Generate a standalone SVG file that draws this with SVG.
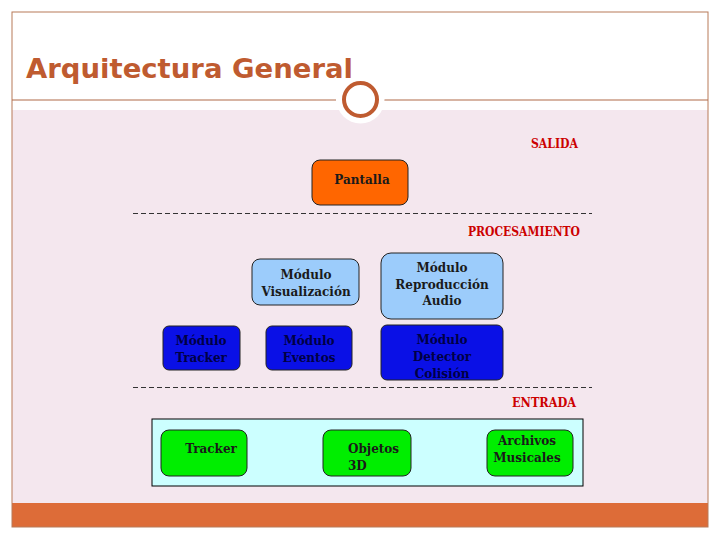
<svg xmlns="http://www.w3.org/2000/svg" width="720" height="540" viewBox="0 0 720 540">
<style>
.title{font-family:"DejaVu Sans",Verdana,sans-serif;font-weight:bold;font-size:26px;fill:#bf5b30}
.lbl{font-family:"DejaVu Serif","Liberation Serif",serif;font-weight:bold;font-size:12px;fill:#1a1a1a;text-anchor:middle}
.dark{fill:#000044}
.sec{font-family:"DejaVu Serif","Liberation Serif",serif;font-weight:bold;font-size:12.5px;fill:#cc0000}
.box{stroke:#222;stroke-width:1}
.dash{stroke:#333;stroke-width:1;stroke-dasharray:5 3;fill:none}
</style>
<rect x="0" y="0" width="720" height="540" fill="#ffffff"/>
<rect x="12" y="110" width="696" height="393" fill="#f4e7ee"/>
<rect x="12" y="503" width="696" height="24" fill="#dd6c38"/>
<rect x="12" y="12" width="696" height="515" fill="none" stroke="#b87a58" stroke-width="1"/>
<line x1="12" y1="100" x2="336" y2="100" stroke="#b06a48" stroke-width="1.2"/>
<line x1="384" y1="100" x2="708" y2="100" stroke="#b06a48" stroke-width="1.2"/>
<circle cx="360.5" cy="99.5" r="24" fill="#ffffff"/>
<circle cx="360.5" cy="99.5" r="16.5" fill="#ffffff" stroke="#bf5b30" stroke-width="4"/>
<text class="title" x="26" y="78" textLength="327" lengthAdjust="spacingAndGlyphs">Arquitectura General</text>

<g id="connectors">
<line class="dash" x1="133" y1="213.5" x2="592" y2="213.5"/>
<line class="dash" x1="133" y1="387.5" x2="592" y2="387.5"/>
</g>

<g id="labels">
<text class="sec" x="531" y="148" textLength="47" lengthAdjust="spacingAndGlyphs">SALIDA</text>
<text class="sec" x="468" y="236" textLength="112" lengthAdjust="spacingAndGlyphs">PROCESAMIENTO</text>
<text class="sec" x="512" y="407" textLength="64" lengthAdjust="spacingAndGlyphs">ENTRADA</text>
</g>

<g id="pantalla">
<rect class="box" x="312" y="160" width="96" height="45" rx="8" fill="#ff6600"/>
<text class="lbl" x="362" y="184">Pantalla</text>
</g>

<g id="visualizacion">
<rect class="box" x="252" y="259" width="107" height="46" rx="8" fill="#9cccfb"/>
<text class="lbl" x="306" y="279">Módulo</text>
<text class="lbl" x="306" y="296">Visualización</text>
</g>

<g id="reproduccion">
<rect class="box" x="381" y="253" width="122" height="66" rx="10" fill="#9cccfb"/>
<text class="lbl" x="442" y="272">Módulo</text>
<text class="lbl" x="442" y="289">Reproducción</text>
<text class="lbl" x="442" y="305">Audio</text>
</g>

<g id="tracker-mod">
<rect class="box" x="163" y="326" width="77" height="44" rx="6" fill="#0a10e6"/>
<text class="lbl dark" x="201" y="345">Módulo</text>
<text class="lbl dark" x="201" y="362">Tracker</text>
</g>

<g id="eventos">
<rect class="box" x="266" y="326" width="86" height="44" rx="6" fill="#0a10e6"/>
<text class="lbl dark" x="309" y="345">Módulo</text>
<text class="lbl dark" x="309" y="362">Eventos</text>
</g>

<g id="detector">
<rect class="box" x="381" y="325" width="122" height="55" rx="6" fill="#0a10e6"/>
<text class="lbl dark" x="442" y="344">Módulo</text>
<text class="lbl dark" x="442" y="361">Detector</text>
<text class="lbl dark" x="442" y="378">Colisión</text>
</g>

<g id="entrada">
<rect x="152" y="419" width="431" height="67" fill="#ccffff" stroke="#000" stroke-width="1"/>
</g>

<g id="tracker">
<rect class="box" x="161" y="430" width="86" height="46" rx="8" fill="#00ee00"/>
<text class="lbl" x="211" y="453">Tracker</text>
</g>

<g id="objetos">
<rect class="box" x="323" y="430" width="88" height="46" rx="8" fill="#00ee00"/>
<text class="lbl" x="348" y="453" style="text-anchor:start">Objetos</text>
<text class="lbl" x="348" y="470" style="text-anchor:start">3D</text>
</g>

<g id="archivos">
<rect class="box" x="487" y="430" width="86" height="46" rx="8" fill="#00ee00"/>
<text class="lbl" x="527" y="445">Archivos</text>
<text class="lbl" x="527" y="462">Musicales</text>
</g>
</svg>
